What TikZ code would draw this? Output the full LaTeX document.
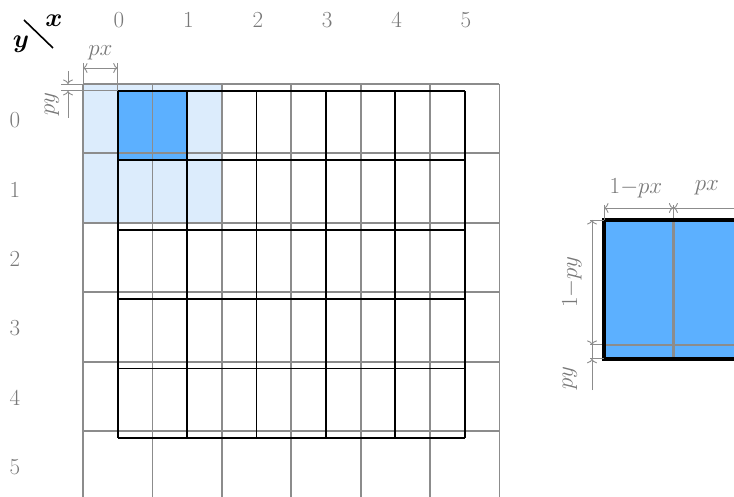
\RequirePackage{fix-cm}
\documentclass[tikz,border=0pt]{standalone}
\usepackage{bm}
\usetikzlibrary{arrows.meta}
\definecolor{lightb}{RGB}{220,236,252}
\definecolor{darkb}{RGB}{92,176,255}
\definecolor{gridgray}{RGB}{140,140,140}
\definecolor{txtgray}{RGB}{120,120,120}
\begin{document}
\begin{tikzpicture}[x=1pt,y=-1pt,
  graygrid/.style={draw=gridgray, line width=1.8pt},
  blackgrid/.style={draw=black, line width=1.9pt},
  lbl/.style={text=txtgray, font=\fontsize{23}{26}\selectfont, inner sep=0pt},
  dimlbl/.style={text=txtgray, font=\fontsize{23}{26}\selectfont, inner sep=0pt},
  dimline/.style={draw=gridgray, line width=0.9pt, <->, >={To[length=4.5pt,width=10pt]}},
  halfdim/.style={draw=gridgray, line width=0.9pt, ->, >={To[length=4.5pt,width=10pt]}},
  ext/.style={draw=gridgray, line width=0.9pt}]
\useasboundingbox (0,0) rectangle (734,497);
\def\s{69.4}
% fills
\fill[lightb] (83,84) rectangle ++(2*\s,2*\s);
\fill[darkb] (117.7,90.9) rectangle ++(\s,\s);
% gray grid
\foreach \i in {0,...,6} {
  \coordinate (gt\i) at (83+\i*\s,84);
  \coordinate (gb\i) at (83+\i*\s,500);
  \draw[graygrid] (gt\i) -- (gb\i);
}
\foreach \j in {0,...,5} {
  \coordinate (gl\j) at (83,84+\j*\s);
  \coordinate (gr\j) at (83+6*\s,84+\j*\s);
  \draw[graygrid] (gl\j) -- (gr\j);
}
% black grid
\foreach \i in {0,...,5} {
  \coordinate (bt\i) at (117.7+\i*\s,90.9);
  \coordinate (bb\i) at (117.7+\i*\s,90.9+5*\s);
  \draw[blackgrid] (bt\i) -- (bb\i);
}
\foreach \j in {0,...,5} {
  \coordinate (bl\j) at (117.7,90.9+\j*\s);
  \coordinate (br\j) at (117.7+5*\s,90.9+\j*\s);
  \draw[blackgrid] (bl\j) -- (br\j);
}
% axis labels
\foreach \i in {0,...,5} {
  \node[lbl] (cx\i) at (119+\i*\s,20) {\i};
  \node[lbl] (ry\i) at (15,120+\i*\s) {\i};
}
\node[font=\fontsize{26}{30}\selectfont, inner sep=0pt] (ylab) at (21,44) {$\bm{y}$};
\node[font=\fontsize{26}{30}\selectfont, inner sep=0pt] (xlab) at (54,21) {$\bm{x}$};
\coordinate (d1) at (24,20);
\coordinate (d2) at (53,48);
\draw[line width=1.6pt] (d1) -- (d2);
% px dimension (left)
\coordinate (pxa) at (83,68);
\coordinate (pxb) at (117.7,68);
\draw[ext] (83,63) -- (gt0);
\draw[ext] (117.7,63) -- (bt0);
\draw[dimline] (pxa) -- (pxb);
\node[dimlbl] (pxl) at (100.3,53) {$px$};
% py dimension (left)
\coordinate (pyt) at (68,84);
\coordinate (pyb) at (68,90.9);
\draw[ext] (61,84) -- (gl0);
\draw[ext] (61,90.9) -- (bl0);
\coordinate (pys1) at (68,71);
\coordinate (pys2) at (68,118);
\draw[halfdim] (pys1) -- (pyt);
\draw[halfdim] (pys2) -- (pyb);
\node[dimlbl, rotate=90] (pyl) at (52,104) {$py$};
% magnified cell (right)
\def\S{138.8}
\coordinate (mtl) at (604,220);
\coordinate (mbr) at (604+\S,220+\S);
\fill[darkb] (mtl) rectangle (mbr);
\coordinate (mvx) at (604+0.5*\S,205);
\coordinate (mvb) at (604+0.5*\S,220+\S);
\coordinate (mhy) at (590,220+0.9*\S);
\coordinate (mhr) at (604+\S,220+0.9*\S);
\draw[draw=gridgray, line width=2.6pt] (604+0.5*\S,220) -- (mvb);
\draw[draw=gridgray, line width=2.6pt] (604,220+0.9*\S) -- (mhr);
\draw[ext] (mvx) -- (604+0.5*\S,220);
\draw[ext] (mhy) -- (604,220+0.9*\S);
\draw[draw=black, line width=3.4pt] (mtl) rectangle (mbr);
\draw[ext] (604,205) -- (mtl);
\draw[ext] (590,220) -- (mtl);
\draw[ext] (590,220+\S) -- (604,220+\S);
% horizontal dims
\coordinate (h0) at (604,208);
\coordinate (h1) at (604+0.5*\S,208);
\coordinate (h2) at (604+\S,208);
\draw[dimline] (h0) -- (h1);
\draw[dimline] (h1) -- (h2);
\node[dimlbl] (omx) at (636,188) {$1{-}px$};
\node[dimlbl] (mpx) at (707,188) {$px$};
% vertical dims
\coordinate (v0) at (592,220);
\coordinate (v1) at (592,220+0.9*\S);
\coordinate (v2) at (592,220+\S);
\coordinate (v3) at (592,390);
\draw[dimline] (v0) -- (v1);
\draw[ext] (v1) -- (v2);
\draw[halfdim] (v3) -- (v2);
\node[dimlbl, rotate=90] (omy) at (572,282) {$1{-}py$};
\node[dimlbl, rotate=90] (mpy) at (570,378) {$py$};
\end{tikzpicture}
\end{document}
